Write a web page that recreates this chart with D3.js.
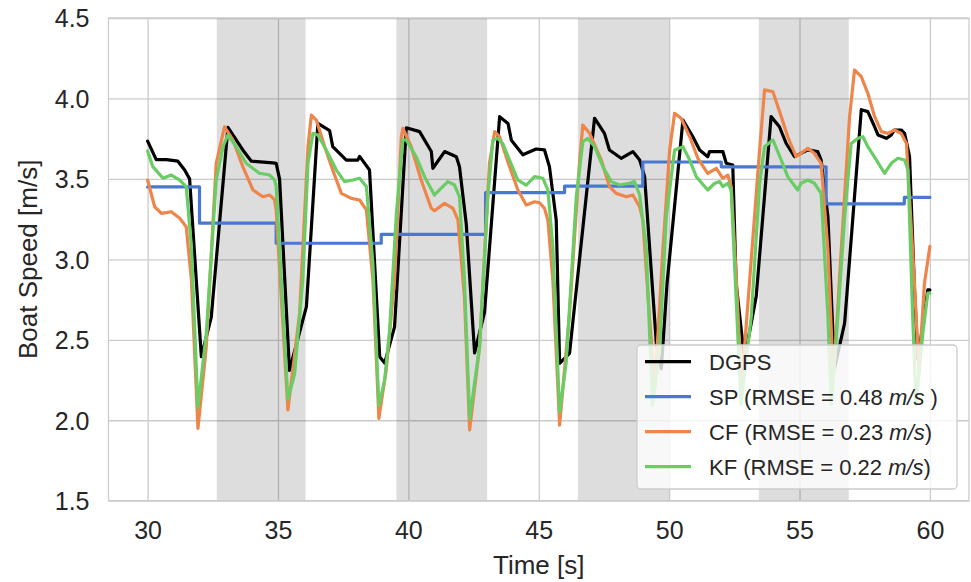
<!DOCTYPE html>
<html><head><meta charset="utf-8">
<script src="https://cdn.jsdelivr.net/npm/d3@7"></script>
<style>
body{margin:0;background:#fff;}
svg{display:block;font-family:"Liberation Sans",Arial,Helvetica,sans-serif;}
</style>
</head><body>
<svg id="chart" width="971" height="582"></svg>
<script>
// ---------- data ----------
const xTicks = [30, 35, 40, 45, 50, 55, 60];
const yTicks = [1.5, 2.0, 2.5, 3.0, 3.5, 4.0, 4.5];
const xTickLabels = ["30", "35", "40", "45", "50", "55", "60"];
const yTickLabels = ["1.5", "2.0", "2.5", "3.0", "3.5", "4.0", "4.5"];
const shadedSpans = [[32.65, 36.06], [39.54, 43.02], [46.5, 50.0], [53.44, 56.89]];

const dgps = [[30.0,3.735],[30.33,3.62],[30.72,3.62],[31.16,3.61],[31.42,3.555],[31.61,3.50],[32.06,2.395],[32.44,2.64],[33.08,3.82],[33.53,3.71],[33.65,3.68],[33.98,3.61],[34.80,3.60],[34.93,3.597],[35.06,3.50],[35.44,2.31],[36.09,2.706],[36.53,3.845],[36.98,3.80],[37.10,3.70],[37.62,3.617],[38.06,3.617],[38.13,3.64],[38.51,3.555],[38.90,2.395],[39.09,2.355],[39.47,2.58],[39.92,3.818],[40.43,3.794],[40.88,3.67],[40.94,3.566],[41.39,3.67],[41.84,3.638],[41.96,3.576],[42.22,3.22],[42.54,2.418],[42.92,2.67],[43.50,3.887],[43.82,3.845],[43.95,3.74],[44.39,3.65],[44.90,3.686],[45.22,3.68],[45.41,3.576],[45.67,3.245],[45.80,2.354],[46.18,2.416],[47.14,3.877],[47.52,3.783],[47.71,3.68],[48.16,3.628],[48.61,3.67],[48.87,3.617],[49.06,3.514],[49.51,2.478],[49.70,2.32],[49.92,2.85],[50.53,3.866],[50.91,3.762],[51.17,3.68],[51.48,3.638],[51.55,3.67],[52.06,3.67],[52.19,3.597],[52.44,3.586],[52.57,2.85],[52.89,2.38],[53.34,2.77],[53.91,3.887],[54.23,3.824],[54.49,3.72],[54.81,3.638],[55.32,3.68],[55.70,3.67],[55.83,3.617],[56.09,3.265],[56.34,2.32],[56.73,2.604],[57.37,3.93],[57.62,3.918],[57.88,3.824],[58.01,3.773],[58.33,3.752],[58.52,3.773],[58.64,3.804],[58.90,3.804],[59.03,3.783],[59.22,3.638],[59.41,2.81],[59.54,2.38],[59.92,2.81],[60.0,2.81]];

const sp = [[30.0,3.45],[31.99,3.225],[34.93,3.10],[38.96,3.155],[42.96,3.415],[45.99,3.455],[48.99,3.605],[52.0,3.575],[56.02,3.345],[59.02,3.385],[60.0,3.385]];

const cf = [[30.0,3.493],[30.27,3.327],[30.53,3.286],[30.91,3.296],[31.23,3.255],[31.48,3.203],[31.68,2.872],[31.93,1.95],[32.25,2.457],[32.63,3.597],[32.95,3.824],[33.27,3.742],[33.65,3.576],[34.04,3.431],[34.42,3.389],[34.68,3.40],[34.87,3.369],[34.93,3.307],[35.38,2.064],[35.83,2.665],[36.15,3.70],[36.28,3.897],[36.47,3.866],[36.79,3.70],[37.10,3.555],[37.43,3.41],[37.81,3.379],[38.13,3.369],[38.39,3.307],[38.64,2.872],[38.87,2.012],[39.15,2.312],[39.47,2.872],[39.73,3.762],[39.79,3.814],[40.11,3.70],[40.49,3.493],[40.88,3.317],[41.00,3.302],[41.39,3.348],[41.71,3.317],[41.90,3.245],[42.15,2.768],[42.35,1.94],[42.73,2.457],[43.11,3.597],[43.31,3.794],[43.50,3.762],[43.88,3.576],[44.20,3.431],[44.52,3.338],[44.84,3.358],[45.03,3.352],[45.22,3.317],[45.35,3.245],[45.54,2.872],[45.80,1.97],[46.18,2.665],[46.56,3.597],[46.69,3.835],[46.95,3.783],[47.40,3.617],[47.71,3.452],[47.97,3.41],[48.36,3.389],[48.61,3.40],[48.87,3.327],[48.99,3.245],[49.20,2.75],[49.45,2.2],[49.76,3.058],[50.02,3.68],[50.21,3.908],[50.46,3.877],[50.79,3.762],[51.10,3.628],[51.48,3.535],[51.81,3.566],[52.06,3.504],[52.25,3.524],[52.38,3.452],[52.57,2.9],[52.78,2.2],[52.89,2.45],[53.47,3.68],[53.66,4.053],[53.98,4.042],[54.30,3.887],[54.55,3.762],[54.87,3.638],[55.06,3.659],[55.32,3.69],[55.57,3.659],[55.83,3.597],[56.09,3.058],[56.30,2.25],[56.60,3.058],[56.92,3.887],[57.11,4.177],[57.37,4.135],[57.62,4.032],[57.88,3.887],[58.14,3.794],[58.39,3.783],[58.64,3.804],[58.90,3.783],[59.10,3.72],[59.41,2.85],[59.58,2.3],[59.79,2.85],[60.0,3.08]];

const kf = [[30.0,3.673],[30.20,3.576],[30.59,3.504],[30.91,3.524],[31.23,3.493],[31.48,3.452],[31.68,3.079],[31.93,2.08],[32.25,2.54],[32.63,3.493],[32.89,3.70],[33.08,3.773],[33.40,3.70],[33.78,3.597],[34.29,3.535],[34.68,3.524],[34.87,3.493],[34.93,3.452],[35.38,2.13],[35.64,2.29],[35.95,2.872],[36.15,3.597],[36.34,3.783],[36.53,3.773],[36.85,3.68],[37.24,3.555],[37.55,3.483],[37.87,3.493],[38.13,3.504],[38.39,3.452],[38.64,2.975],[38.87,2.09],[39.09,2.25],[39.28,2.56],[39.54,3.286],[39.79,3.742],[39.92,3.742],[40.30,3.638],[40.62,3.514],[41.00,3.40],[41.32,3.452],[41.51,3.483],[41.77,3.462],[41.96,3.389],[42.15,2.872],[42.35,2.01],[42.73,2.457],[43.05,3.389],[43.24,3.742],[43.43,3.752],[43.62,3.72],[43.88,3.617],[44.20,3.493],[44.52,3.462],[44.84,3.514],[45.16,3.504],[45.35,3.431],[45.54,3.079],[45.80,2.05],[46.05,2.354],[46.44,3.389],[46.69,3.731],[46.88,3.752],[47.14,3.70],[47.46,3.576],[47.78,3.483],[48.10,3.462],[48.48,3.473],[48.67,3.483],[48.87,3.40],[49.12,3.079],[49.36,2.09],[49.63,2.437],[49.89,3.265],[50.21,3.68],[50.53,3.70],[50.79,3.617],[51.04,3.514],[51.48,3.431],[51.75,3.473],[51.94,3.483],[52.06,3.452],[52.25,3.473],[52.38,3.431],[52.63,2.54],[52.76,2.10],[53.15,2.644],[53.47,3.473],[53.66,3.70],[53.98,3.742],[54.30,3.617],[54.55,3.514],[54.93,3.431],[55.06,3.473],[55.32,3.493],[55.57,3.473],[55.83,3.41],[56.09,2.644],[56.22,2.10],[56.47,2.644],[56.73,3.265],[56.98,3.72],[57.24,3.752],[57.43,3.762],[57.62,3.70],[57.95,3.617],[58.26,3.535],[58.52,3.597],[58.77,3.628],[59.03,3.617],[59.16,3.555],[59.34,2.644],[59.47,2.10],[59.73,2.54],[59.92,2.79],[60.0,2.79]];

const seriesNames = ["DGPS", "SP", "CF", "KF"];
const seriesColors = ["#000000", "#4878d0", "#ee854a", "#6acc64"];
const rmseValues = [null, "0.48", "0.23", "0.22"];

// ---------- layout ----------
const W = 971, H = 582;
const plot = {left: 108.5, right: 969, top: 18, bottom: 500.7};
const svg = d3.select("#chart");
const x = d3.scaleLinear().domain([28.5, 61.5]).range([plot.left, plot.right]);
const y = d3.scaleLinear().domain([1.5, 4.5]).range([plot.bottom, plot.top]);
const textColor = "#262626";
const gridColor = "#cccccc";

// grid
const gx = svg.append("g").attr("transform", `translate(0,${plot.bottom})`)
  .call(d3.axisBottom(x).tickValues(xTicks).tickSize(-(plot.bottom - plot.top)).tickFormat((d,i)=>xTickLabels[i]));
const gy = svg.append("g").attr("transform", `translate(${plot.left},0)`)
  .call(d3.axisLeft(y).tickValues(yTicks).tickSize(-(plot.right - plot.left)).tickFormat((d,i)=>yTickLabels[i]));
[gx, gy].forEach(g => {
  g.select(".domain").remove();
  g.selectAll(".tick line").attr("stroke", gridColor).attr("stroke-width", 1.3);
  g.selectAll(".tick text").attr("fill", textColor).attr("font-size", 25)
    .attr("font-family", "'Liberation Sans', Arial, sans-serif");
});
gx.selectAll(".tick text").attr("y", 21).attr("dy", "0.71em");
gy.selectAll(".tick text").attr("x", -19).attr("dy", "0.35em");

// shaded spans (above grid, below lines)
svg.append("g").selectAll("rect").data(shadedSpans).join("rect")
  .attr("x", d => x(d[0])).attr("width", d => x(d[1]) - x(d[0]))
  .attr("y", plot.top).attr("height", plot.bottom - plot.top)
  .attr("fill", "#000").attr("fill-opacity", 0.135);

// frame (spines)
svg.append("rect").attr("x", plot.left).attr("y", plot.top)
  .attr("width", plot.right - plot.left).attr("height", plot.bottom - plot.top)
  .attr("fill", "none").attr("stroke", gridColor).attr("stroke-width", 1.3);

// lines
const lineLin = d3.line().x(d => x(d[0])).y(d => y(d[1]));
const lineStep = d3.line().x(d => x(d[0])).y(d => y(d[1])).curve(d3.curveStepAfter);
const allSeries = [dgps, sp, cf, kf];
const lg = svg.append("g").attr("fill", "none").attr("stroke-width", 3.2)
  .attr("stroke-linejoin", "round").attr("stroke-linecap", "round");
[0, 1, 2, 3].forEach(i => {
  lg.append("path").datum(allSeries[i])
    .attr("d", i === 1 ? lineStep(allSeries[i]) : lineLin(allSeries[i]))
    .attr("stroke", seriesColors[i]);
});

// axis labels
svg.append("text").attr("x", (plot.left + plot.right) / 2).attr("y", 573.5)
  .attr("text-anchor", "middle").attr("font-size", 26).attr("fill", textColor).text("Time [s]");
svg.append("text").attr("transform", `translate(36.7,${(plot.top + plot.bottom) / 2}) rotate(-90)`)
  .attr("text-anchor", "middle").attr("font-size", 26).attr("fill", textColor).text("Boat Speed [m/s]");

// legend
const leg = svg.append("g");
leg.append("rect").attr("x", 637).attr("y", 345).attr("width", 320).attr("height", 144)
  .attr("rx", 4).attr("fill", "#ffffff").attr("fill-opacity", 0.8)
  .attr("stroke", gridColor).attr("stroke-width", 1.3);
seriesNames.forEach((name, i) => {
  const ry = 361.7 + i * 35;
  leg.append("line").attr("x1", 645).attr("x2", 691).attr("y1", ry).attr("y2", ry)
    .attr("stroke", seriesColors[i]).attr("stroke-width", 3.2);
  const t = leg.append("text").attr("x", 709).attr("y", ry).attr("dy", "0.36em")
    .attr("font-size", 22).attr("fill", textColor);
  if (rmseValues[i] === null) {
    t.text(name);
  } else {
    t.append("tspan").text(`${name} (RMSE = ${rmseValues[i]} `);
    t.append("tspan").attr("font-style", "italic").text("m/s");
    t.append("tspan").text(i === 1 ? " )" : ")");
  }
});
</script>
</body></html>
